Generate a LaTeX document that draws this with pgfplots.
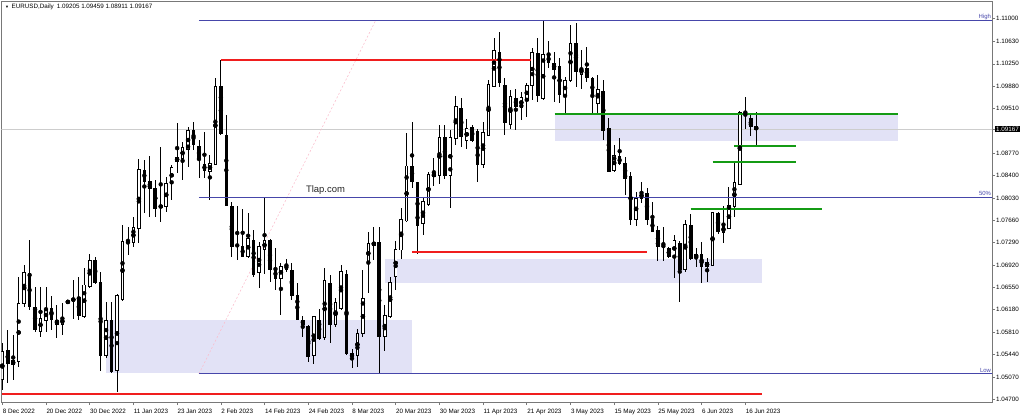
\documentclass[border=0pt]{standalone}
\usepackage{fontspec}
\setmainfont{Liberation Sans}
\usepackage{pgfplots}
\usepackage{pgfplotstable}
\pgfplotsset{compat=1.18}
\definecolor{lav}{RGB}{226,226,246}
\definecolor{fib}{RGB}{70,70,170}
\definecolor{mtred}{RGB}{240,30,30}
\definecolor{mtgreen}{RGB}{20,155,20}
\definecolor{frame}{RGB}{120,120,120}
\definecolor{cur}{RGB}{205,205,205}
\definecolor{pinkd}{RGB}{250,190,205}

\pgfplotstableread{
i o h l c
0 1.0502 1.0563 1.0485 1.0549
1 1.0551 1.0585 1.0496 1.0529
2 1.0527 1.0576 1.0502 1.0534
3 1.0532 1.0673 1.0524 1.0629
4 1.0629 1.0692 1.0623 1.0679
5 1.0678 1.0733 1.0618 1.0623
6 1.0622 1.0656 1.0582 1.0586
7 1.0582 1.0656 1.0573 1.0604
8 1.0600 1.0656 1.0582 1.0619
9 1.0621 1.0641 1.0585 1.0602
10 1.0600 1.0626 1.0571 1.0593
11 1.0593 1.0630 1.0577 1.0605
12 1.0630 1.0634 1.0628 1.0632
13 1.0633 1.0667 1.0602 1.0637
14 1.0638 1.0673 1.0601 1.0608
15 1.0607 1.0687 1.0604 1.0659
16 1.0657 1.0711 1.0654 1.0700
17 1.0699 1.0705 1.0660 1.0663
18 1.0663 1.0681 1.0516 1.0543
19 1.0543 1.0631 1.0538 1.0601
20 1.0601 1.0631 1.0514 1.0516
21 1.0517 1.0644 1.0482 1.0641
22 1.0635 1.0758 1.0632 1.0731
23 1.0729 1.0755 1.0709 1.0730
24 1.0729 1.0772 1.0722 1.0754
25 1.0753 1.0867 1.0728 1.0850
26 1.0849 1.0866 1.0778 1.0831
27 1.0831 1.0872 1.0772 1.0819
28 1.0819 1.0833 1.0772 1.0786
29 1.0787 1.0887 1.0764 1.0791
30 1.0789 1.0837 1.0780 1.0827
31 1.0827 1.0858 1.0800 1.0854
32 1.0864 1.0927 1.0844 1.0870
33 1.0869 1.0896 1.0833 1.0886
34 1.0884 1.0921 1.0855 1.0914
35 1.0914 1.0929 1.0882 1.0891
36 1.0889 1.0899 1.0836 1.0866
37 1.0858 1.0913 1.0836 1.0849
38 1.0847 1.0874 1.0800 1.0860
39 1.0858 1.1001 1.0857 1.0988
40 1.0987 1.1032 1.0907 1.0909
41 1.0907 1.0940 1.0790 1.0791
42 1.0789 1.0797 1.0706 1.0722
43 1.0724 1.0790 1.0700 1.0725
44 1.0722 1.0785 1.0706 1.0707
45 1.0707 1.0778 1.0703 1.0736
46 1.0733 1.0750 1.0673 1.0676
47 1.0679 1.0731 1.0654 1.0722
48 1.0718 1.0805 1.0678 1.0732
49 1.0733 1.0735 1.0664 1.0684
50 1.0685 1.0720 1.0651 1.0670
51 1.0670 1.0696 1.0609 1.0690
52 1.0692 1.0702 1.0681 1.0685
53 1.0683 1.0695 1.0634 1.0642
54 1.0642 1.0662 1.0601 1.0602
55 1.0601 1.0607 1.0573 1.0594
56 1.0591 1.0593 1.0532 1.0540
57 1.0543 1.0608 1.0529 1.0607
58 1.0601 1.0620 1.0568 1.0571
59 1.0572 1.0688 1.0568 1.0667
60 1.0662 1.0676 1.0563 1.0593
61 1.0593 1.0637 1.0590 1.0630
62 1.0620 1.0692 1.0618 1.0681
63 1.0677 1.0684 1.0543 1.0545
64 1.0545 1.0554 1.0521 1.0540
65 1.0543 1.0587 1.0524 1.0578
66 1.0578 1.0684 1.0573 1.0636
67 1.0696 1.0747 1.0645 1.0727
68 1.0725 1.0755 1.0700 1.0729
69 1.0729 1.0755 1.0512 1.0573
70 1.0573 1.0626 1.0549 1.0609
71 1.0607 1.0673 1.0604 1.0663
72 1.0673 1.0731 1.0650 1.0718
73 1.0717 1.0786 1.0702 1.0767
74 1.0765 1.0911 1.0763 1.0856
75 1.0856 1.0928 1.0819 1.0831
76 1.0829 1.0830 1.0711 1.0758
77 1.0760 1.0805 1.0742 1.0797
78 1.0793 1.0846 1.0789 1.0842
79 1.0839 1.0869 1.0822 1.0843
80 1.0841 1.0924 1.0827 1.0903
81 1.0903 1.0924 1.0835 1.0841
82 1.0841 1.0915 1.0786 1.0903
83 1.0902 1.0972 1.0891 1.0955
84 1.0951 1.0969 1.0888 1.0904
85 1.0899 1.0933 1.0884 1.0918
86 1.0919 1.0924 1.0896 1.0898
87 1.0913 1.0918 1.0830 1.0859
88 1.0858 1.0928 1.0852 1.0912
89 1.0907 1.0999 1.0905 1.0991
90 1.0988 1.1067 1.0987 1.1047
91 1.1044 1.1077 1.0987 1.0994
92 1.0990 1.1001 1.0907 1.0928
93 1.0924 1.0982 1.0918 1.0971
94 1.0968 1.0983 1.0915 1.0955
95 1.0953 1.0979 1.0932 1.0969
96 1.0965 1.0994 1.0937 1.0989
97 1.0989 1.1051 1.0965 1.1044
98 1.1042 1.1067 1.0962 1.0972
99 1.0968 1.1096 1.0965 1.1041
100 1.1038 1.1063 1.1018 1.1028
101 1.1025 1.1044 1.0961 1.1016
102 1.1020 1.1035 1.0960 1.0975
103 1.0972 1.1004 1.0940 1.0998
104 1.0997 1.1090 1.0995 1.1059
105 1.1058 1.1092 1.0987 1.1013
106 1.1008 1.1048 1.0984 1.1018
107 1.1018 1.1053 1.0995 1.1003
108 1.1001 1.1004 1.0940 1.0971
109 1.0960 1.1007 1.0940 1.0983
110 1.0980 1.0998 1.0899 1.0915
111 1.0918 1.0935 1.0846 1.0846
112 1.0849 1.0891 1.0846 1.0873
113 1.0871 1.0903 1.0858 1.0860
114 1.0860 1.0870 1.0808 1.0836
115 1.0838 1.0846 1.0758 1.0768
116 1.0767 1.0813 1.0757 1.0803
117 1.0802 1.0829 1.0794 1.0812
118 1.0811 1.0819 1.0758 1.0768
119 1.0768 1.0797 1.0746 1.0747
120 1.0749 1.0757 1.0698 1.0722
121 1.0725 1.0755 1.0698 1.0722
122 1.0720 1.0722 1.0703 1.0706
123 1.0706 1.0742 1.0670 1.0733
124 1.0727 1.0731 1.0631 1.0685
125 1.0684 1.0767 1.0681 1.0759
126 1.0757 1.0776 1.0700 1.0703
127 1.0704 1.0720 1.0689 1.0710
128 1.0710 1.0731 1.0663 1.0689
129 1.0690 1.0703 1.0664 1.0696
130 1.0692 1.0780 1.0690 1.0779
131 1.0778 1.0780 1.0743 1.0747
132 1.0746 1.0789 1.0729 1.0756
133 1.0753 1.0822 1.0752 1.0791
134 1.0789 1.0863 1.0772 1.0828
135 1.0826 1.0947 1.0826 1.0944
136 1.0943 1.0971 1.0918 1.0939
137 1.0935 1.0944 1.0906 1.0921
138 1.09205 1.09459 1.08911 1.09167
}\ohlc

\begin{document}
\begin{tikzpicture}[x=1bp,y=1bp]
\begin{axis}[name=ax,
  at={(1.5,16)}, anchor=south west,
  scale only axis, width=990.5bp, height=400bp,
  xmin=-0.146, xmax=181.15, ymin=1.046537, ymax=1.112730,
  axis line style={draw=frame, line width=1bp},
  scaled y ticks=false, scaled x ticks=false,
  xtick={0,8,16,24,32,40,48,56,64,72,80,88,96,104,112,120,128,136},
  xticklabels={8 Dec 2022,20 Dec 2022,30 Dec 2022,11 Jan 2023,23 Jan 2023,2 Feb 2023,14 Feb 2023,24 Feb 2023,8 Mar 2023,20 Mar 2023,30 Mar 2023,11 Apr 2023,21 Apr 2023,3 May 2023,15 May 2023,25 May 2023,6 Jun 2023,16 Jun 2023},
  ytick={1.11,1.1063,1.1025,1.0988,1.0951,1.0877,1.084,1.0803,1.0766,1.0729,1.0692,1.0655,1.0618,1.0581,1.0544,1.0507,1.047},
  yticklabels={1.11000,1.10630,1.10250,1.09880,1.09510,1.08770,1.08400,1.08030,1.07660,1.07290,1.06920,1.06550,1.06180,1.05810,1.05440,1.05070,1.04700},
  extra y ticks={1.09167}, extra y tick labels={1.09167},
  extra y tick style={yticklabel style={fill=black, text=white, inner sep=1bp, xshift=-1bp}},
  xtick pos=bottom, ytick pos=right, yticklabel pos=right,
  tick align=outside, major tick length=3bp,
  tick style={draw=frame, line width=0.6bp},
  xticklabel style={font=\fontsize{6.3}{7}\selectfont, anchor=north west, inner sep=0pt, xshift=0.3bp, yshift=-3.5bp},
  yticklabel style={font=\fontsize{6.3}{7}\selectfont, anchor=west, inner sep=0pt, xshift=1bp},
  clip=true,
]
% background rectangles
\addplot[fill=lav, draw=none, forget plot] coordinates {(18.98,1.05139) (74.99,1.05139) (74.99,1.06011) (18.98,1.06011)} -- cycle;
\addplot[fill=lav, draw=none, forget plot] coordinates {(70.05,1.06618) (139.06,1.06618) (139.06,1.07020) (70.05,1.07020)} -- cycle;
\addplot[fill=lav, draw=none, forget plot] coordinates {(101.1,1.08976) (163.95,1.08976) (163.95,1.09415) (101.1,1.09415)} -- cycle;
% current price line
\addplot[cur, line width=0.9bp, forget plot] coordinates {(-1,1.09167) (182,1.09167)};
% fib trend line
\addplot[pinkd, line width=0.6bp, dash pattern=on 2bp off 2bp, forget plot] coordinates {(36,1.0512) (68.3,1.1096)};
% wicks
\addplot[only marks, mark=none, forget plot,
  error bars/.cd, y dir=both, y explicit, error mark=none,
  error bar style={draw=black, line width=0.9bp}]
  table[x=i, y expr={(\thisrow{h}+\thisrow{l})/2}, y error expr={(\thisrow{h}-\thisrow{l})/2}] {\ohlc};
% bear bodies
\addplot[only marks, mark=none, forget plot,
  restrict expr to domain={\thisrow{o}-\thisrow{c}}{0.0000001:1},
  error bars/.cd, y dir=both, y explicit, error mark=none,
  error bar style={draw=black, line width=3.6bp}]
  table[x=i, y expr={(\thisrow{o}+\thisrow{c})/2}, y error expr={(\thisrow{o}-\thisrow{c})/2+0.00008}] {\ohlc};
% bull bodies outline
\addplot[only marks, mark=none, forget plot,
  restrict expr to domain={\thisrow{c}-\thisrow{o}}{0:1},
  error bars/.cd, y dir=both, y explicit, error mark=none,
  error bar style={draw=black, line width=3.6bp}]
  table[x=i, y expr={(\thisrow{o}+\thisrow{c})/2}, y error expr={(\thisrow{c}-\thisrow{o})/2+0.00008}] {\ohlc};
% bull bodies fill
\addplot[only marks, mark=none, forget plot,
  restrict expr to domain={\thisrow{c}-\thisrow{o}}{0.00017:1},
  error bars/.cd, y dir=both, y explicit, error mark=none,
  error bar style={draw=white, line width=1.7bp}]
  table[x=i, y expr={(\thisrow{o}+\thisrow{c})/2}, y error expr={(\thisrow{c}-\thisrow{o})/2-0.00008}] {\ohlc};
% fib levels
\addplot[fib, line width=1bp, forget plot] coordinates {(36,1.10967) (182,1.10967)};
\addplot[fib, line width=1bp, forget plot] coordinates {(36,1.08043) (182,1.08043)};
\addplot[fib, line width=1bp, forget plot] coordinates {(36,1.05119) (182,1.05119)};
% red lines
\addplot[mtred, line width=2bp, forget plot] coordinates {(40,1.10313) (96.8,1.10313)};
\addplot[mtred, line width=2bp, forget plot] coordinates {(75,1.07136) (118,1.07136)};
\addplot[mtred, line width=2bp, forget plot] coordinates {(0,1.04786) (139.06,1.04786)};
% green lines
\addplot[mtgreen, line width=1.8bp, forget plot] coordinates {(101.1,1.09415) (163.95,1.09415)};
\addplot[mtgreen, line width=1.8bp, forget plot] coordinates {(134,1.08890) (145.2,1.08890)};
\addplot[mtgreen, line width=1.8bp, forget plot] coordinates {(130,1.08630) (145.2,1.08630)};
\addplot[mtgreen, line width=1.8bp, forget plot] coordinates {(126,1.07853) (150.1,1.07853)};
% texts
\node[font=\fontsize{6}{7}\selectfont, text=fib, anchor=base east, inner sep=0pt] at (axis cs:181.0,1.10967) [yshift=1.5bp] {High};
\node[font=\fontsize{6}{7}\selectfont, text=fib, anchor=base east, inner sep=0pt] at (axis cs:181.0,1.08043) [yshift=1.5bp] {50\%};
\node[font=\fontsize{6}{7}\selectfont, text=fib, anchor=base east, inner sep=0pt] at (axis cs:181.0,1.05119) [yshift=1.5bp] {Low};
\node[font=\fontsize{9.5}{11}\selectfont, text=black!85, inner sep=0pt] at (axis cs:59.16,1.08162) {Tlap.com};
\end{axis}
\node[anchor=west, inner sep=0pt, font=\fontsize{6.3}{7}\selectfont] at ([xshift=3.5bp,yshift=-5bp]ax.north west) {{\fontsize{4}{4}\selectfont ▼}\hspace{2.5bp}EURUSD,Daily\hspace{3bp}1.09205 1.09459 1.08911 1.09167};
\pgfresetboundingbox
\path[use as bounding box] ([xshift=-1.5bp,yshift=-16bp]ax.south west) rectangle ([xshift=32bp,yshift=2bp]ax.north east);
\end{tikzpicture}
\end{document}
